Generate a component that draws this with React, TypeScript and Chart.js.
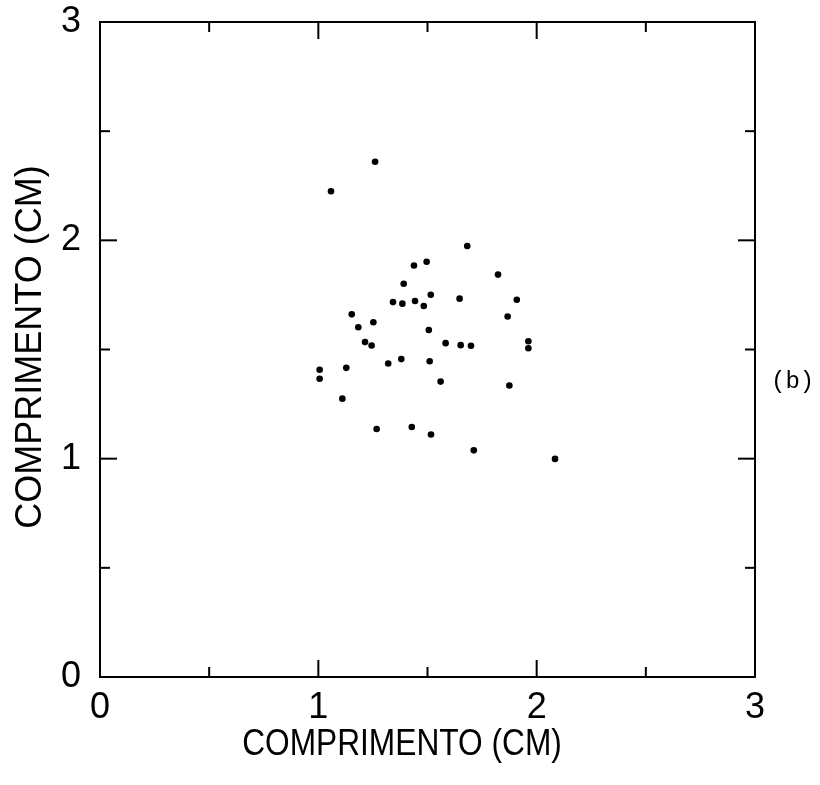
import React, { useEffect, useRef } from "react";
import { Chart, registerables } from "chart.js";

Chart.register(...registerables);

// Horizontal length (cm) of each specimen
const lengthX = [
  1.26, 1.058, 1.682, 1.438, 1.496, 1.823, 1.391, 1.515, 1.647, 1.909,
  1.342, 1.385, 1.443, 1.483, 1.153, 1.867, 1.183, 1.252, 1.506, 1.214,
  1.244, 1.583, 1.652, 1.699, 1.962, 1.962, 1.006, 1.006, 1.128, 1.32,
  1.38, 1.51, 1.56, 1.875, 1.11, 1.267, 1.428, 1.516, 1.712, 2.084,
];
// Vertical length (cm) of each specimen
const lengthY = [
  2.36, 2.225, 1.974, 1.885, 1.902, 1.843, 1.801, 1.751, 1.733, 1.728,
  1.717, 1.71, 1.722, 1.699, 1.661, 1.651, 1.602, 1.625, 1.589, 1.534,
  1.518, 1.529, 1.52, 1.517, 1.538, 1.506, 1.407, 1.366, 1.416, 1.436,
  1.456, 1.446, 1.353, 1.335, 1.275, 1.136, 1.145, 1.111, 1.038, 0.999,
];

const axisMin = 0;
const axisMax = 3;
const labelStep = 1;
const markStep = 0.5;
const axisTitle = "COMPRIMENTO (CM)";
const panelLabel = "(b)";

const labelFont = '"Liberation Sans", Arial, Helvetica, sans-serif';

const framePlugin = {
  id: "frameTicks",
  afterDraw(chart: any) {
    const { ctx, chartArea, scales } = chart;
    const { left, right, top, bottom } = chartArea;
    const xs = scales.x;
    const ys = scales.y;
    ctx.save();
    ctx.strokeStyle = "#000";
    ctx.lineWidth = 2;
    ctx.strokeRect(left, top, right - left, bottom - top);
    const line = (a: number, b: number, c: number, d: number) => {
      ctx.beginPath();
      ctx.moveTo(a, b);
      ctx.lineTo(c, d);
      ctx.stroke();
    };
    for (let v = axisMin + markStep; v < axisMax - 1e-9; v += markStep) {
      const major = Math.abs(v - Math.round(v)) < 1e-9;
      const len = major ? 17 : 10;
      const px = xs.getPixelForValue(v);
      line(px, bottom, px, bottom - len);
      line(px, top, px, top + len);
      const py = ys.getPixelForValue(v);
      line(left, py, left + len, py);
      line(right, py, right - len, py);
    }
    ctx.fillStyle = "#000";
    ctx.textAlign = "center";
    ctx.textBaseline = "middle";
    ctx.font = '36px ' + labelFont;
    // x title
    ctx.save();
    ctx.translate(402, 745);
    ctx.scale(0.88, 1);
    ctx.fillText(axisTitle, 0, 0);
    ctx.restore();
    // y title
    ctx.save();
    ctx.translate(31, 347);
    ctx.rotate(-Math.PI / 2);
    ctx.fillText(axisTitle, 0, 0);
    ctx.restore();
    // panel label
    ctx.font = '24px "Liberation Mono", "DejaVu Sans Mono", monospace';
    ctx.textAlign = "left";
    ctx.fillText(panelLabel, 771, 382);
    ctx.restore();
  },
};

export default function App() {
  const canvasRef = useRef<HTMLCanvasElement | null>(null);

  useEffect(() => {
    document.body.style.margin = "0";
    const canvas = canvasRef.current;
    if (!canvas) return;
    const points = lengthX.map((x, i) => ({ x, y: lengthY[i] }));
    const chart = new Chart(canvas, {
      type: "scatter",
      data: {
        datasets: [
          {
            data: points,
            pointRadius: 3.3,
            pointBackgroundColor: "#000",
            pointBorderWidth: 0,
            pointBorderColor: "#000",
          },
        ],
      },
      options: {
        responsive: false,
        animation: false,
        layout: { padding: { top: 22, right: 65, left: 0, bottom: 0 } },
        plugins: {
          legend: { display: false },
          tooltip: { enabled: false },
        },
        scales: {
          x: {
            type: "linear",
            min: axisMin,
            max: axisMax,
            grid: { display: false, drawTicks: false },
            border: { display: false },
            ticks: {
              stepSize: labelStep,
              color: "#000",
              padding: 9,
              maxRotation: 0,
              font: { family: labelFont, size: 36, lineHeight: 1.2 },
            },
            afterFit: (s: any) => {
              s.height = 108;
              s.paddingLeft = 0;
              s.paddingRight = 0;
            },
          },
          y: {
            type: "linear",
            min: axisMin,
            max: axisMax,
            grid: { display: false, drawTicks: false },
            border: { display: false },
            ticks: {
              stepSize: labelStep,
              color: "#000",
              padding: 19,
              font: { family: labelFont, size: 36, lineHeight: 1.2 },
            },
            afterFit: (s: any) => {
              s.width = 100;
              s.paddingTop = 0;
              s.paddingBottom = 0;
            },
          },
        },
      },
      plugins: [framePlugin],
    });
    return () => chart.destroy();
  }, []);

  return (
    <div style={{ position: "absolute", left: 0, top: 0, width: 820, height: 785, background: "#fff" }}>
      <canvas ref={canvasRef} width={820} height={785} style={{ display: "block" }} />
    </div>
  );
}
